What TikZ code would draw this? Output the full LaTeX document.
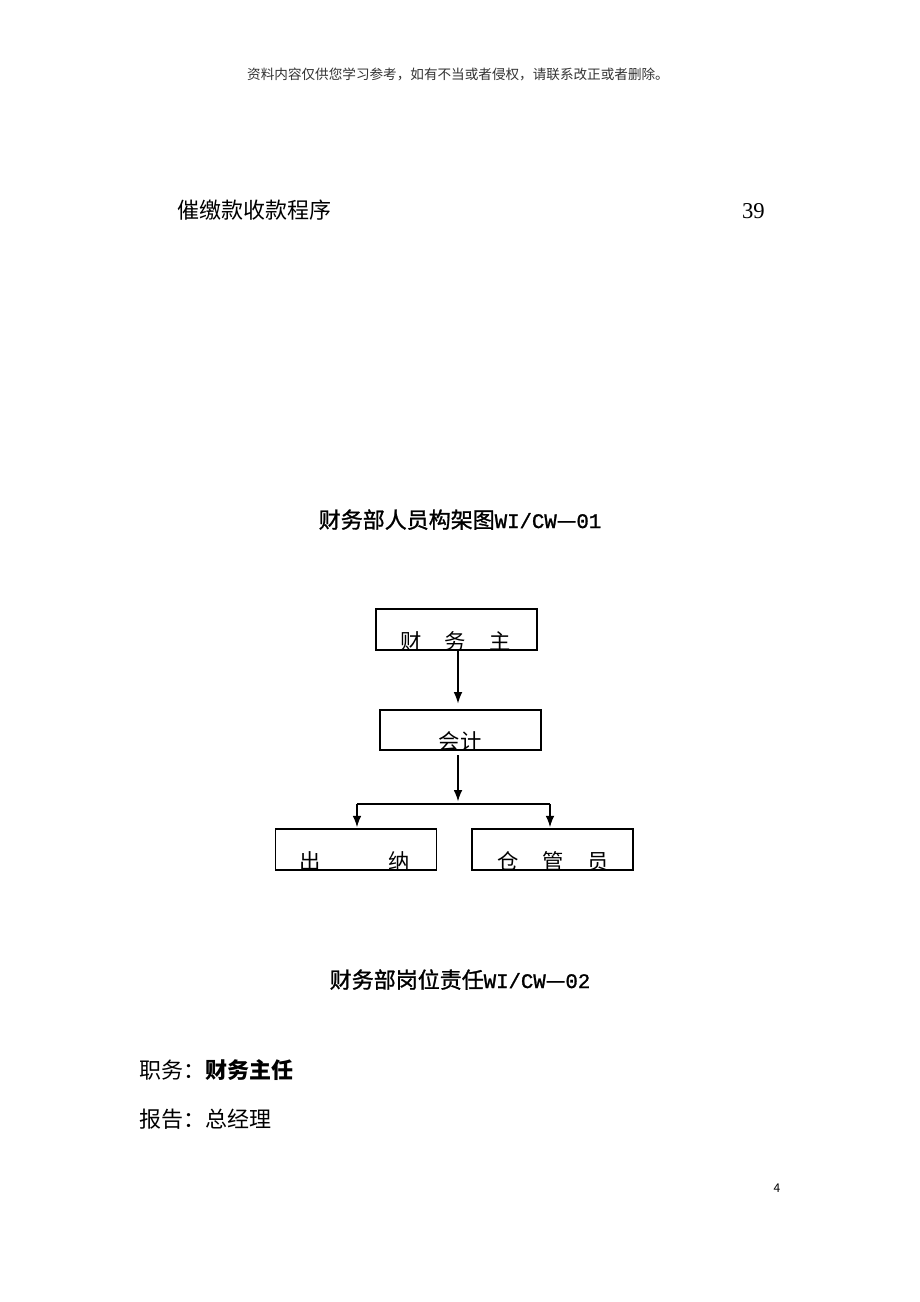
\documentclass[tikz,border=0pt]{standalone}
\usepackage{fontspec}
\setmainfont{Noto Sans CJK SC}
\newfontfamily\monof[FakeBold=1.2]{Liberation Mono}
\newfontfamily\seriff{Liberation Serif}
\newfontfamily\heavyf[FakeBold=1.2]{Noto Sans CJK SC}
\usetikzlibrary{arrows.meta}
\tikzset{
  box/.style={draw, line width=0.85pt, inner sep=0pt, minimum width=120.75pt, minimum height=30.75pt},
  arr/.style={line width=0.85pt, -{Latex[length=8.5pt,width=6.5pt]}},
  conn/.style={line width=0.85pt},
  boxtext/.style={anchor=base, inner sep=0pt, font=\fontsize{16}{16}\selectfont},
  bigtext/.style={inner sep=0pt, font=\fontsize{16.5}{18}\selectfont},
}
\begin{document}
\begin{tikzpicture}[x=0.75pt,y=-0.75pt]
\fill[white] (0,0) rectangle (920,1302);
\useasboundingbox (0,0) rectangle (920,1302);

% header
\node[anchor=base, inner sep=0pt, font=\fontsize{10.2}{12}\selectfont, text=black!80] (hdr) at (458,80) {资料内容仅供您学习参考，如有不当或者侵权，请联系改正或者删除。};

\node[bigtext, anchor=base west] (toc) at (177,219) {催缴款收款程序};
\node[inner sep=0pt, anchor=base east, font=\fontsize{17}{18}\seriff] (tocnum) at (765,219) {39};

% title 1
\node[bigtext, anchor=base] (t1) at (460,528) {\heavyf 财务部人员构架图{\monof\fontsize{15.5}{18}\selectfont WI/CW}—{\monof\fontsize{15.5}{18}\selectfont 01}};

% boxes
\node[box] (zhuren) at (456.5,629.5) {};
\node[box, minimum height=30pt] (kuaiji) at (460.5,730) {};
\node[box] (chuna) at (356,849.5) {};
\node[box] (cangguan) at (552.5,849.5) {};

\begin{scope}
\clip (376,609) rectangle (537,649.5);
\node[boxtext] (c1) at (411,649) {财};
\node[boxtext] (c2) at (455,649) {务};
\node[boxtext] (c3) at (500,649) {主};
\end{scope}
\begin{scope}
\clip (380,710) rectangle (541,749.5);
\node[boxtext] (k1) at (460,749.5) {会计};
\end{scope}
\begin{scope}
\clip (275,829) rectangle (437,869.5);
\node[boxtext] (n1) at (310,869) {出};
\node[boxtext] (n2) at (399,869) {纳};
\end{scope}
\begin{scope}
\clip (472,829) rectangle (633,869.5);
\node[boxtext] (g1) at (508,869) {仓};
\node[boxtext] (g2) at (553,869) {管};
\node[boxtext] (g3) at (598,869) {员};
\end{scope}

% connectors
\coordinate (a1s) at (458,650);
\coordinate (a2s) at (458,755);
\coordinate (j) at (458,804);
\coordinate (jl) at (357,804);
\coordinate (jr) at (550,804);
\draw[arr] (a1s) -- ([yshift=4.5pt]a1s |- kuaiji.north);
\draw[arr] (a2s) -- ([yshift=2pt]j);
\draw[conn] (jl) -- (jr);
\draw[arr] (jl) -- ([yshift=1pt]jl |- chuna.north);
\draw[arr] (jr) -- ([yshift=1pt]jr |- cangguan.north);

% title 2
\node[bigtext, anchor=base] (t2) at (460,988) {\heavyf 财务部岗位责任{\monof\fontsize{15.5}{18}\selectfont WI/CW}—{\monof\fontsize{15.5}{18}\selectfont 02}};

\node[bigtext, anchor=base west] (zw) at (139,1078) {职务：\textbf{财务主任}};
\node[bigtext, anchor=base west] (bg) at (139,1127) {报告：总经理};

\node[inner sep=0pt, anchor=base, font=\fontsize{9}{10}\selectfont] (pg) at (777,1192) {4};
\end{tikzpicture}
\end{document}
